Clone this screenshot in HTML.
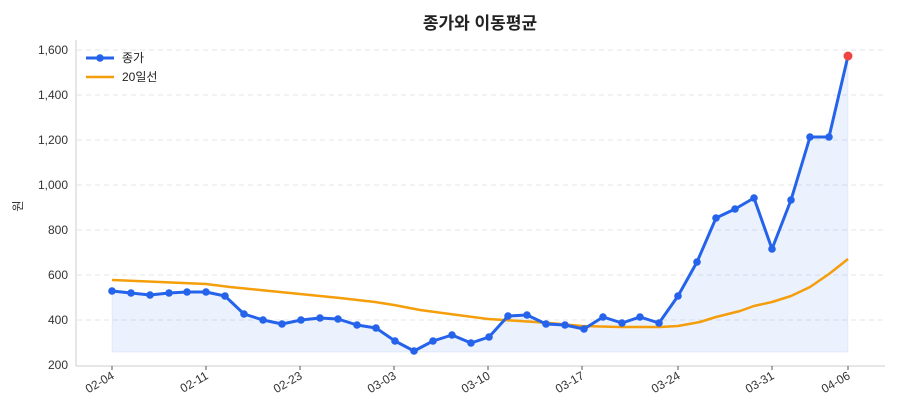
<!DOCTYPE html>
<html><head><meta charset="utf-8"><style>
body{margin:0;background:#fff}
svg{display:block;font-family:"Liberation Sans","Noto Sans CJK KR",sans-serif}
</style></head><body>
<svg width="900" height="420" viewBox="0 0 900 420">
<text x="480" y="29" text-anchor="middle" font-size="17" font-weight="bold" fill="#222">종가와 이동평균</text>
<g stroke="#e3e6ea" stroke-dasharray="5,4" stroke-width="1">
<line x1="77" x2="885" y1="50" y2="50"/><line x1="77" x2="885" y1="95" y2="95"/><line x1="77" x2="885" y1="140" y2="140"/><line x1="77" x2="885" y1="185" y2="185"/><line x1="77" x2="885" y1="230" y2="230"/><line x1="77" x2="885" y1="275" y2="275"/><line x1="77" x2="885" y1="320" y2="320"/>
</g>
<line x1="76" y1="40" x2="76" y2="366" stroke="#ccc"/>
<line x1="76" y1="366" x2="885" y2="366" stroke="#ccc"/>
<g font-size="12" fill="#333" text-anchor="end">
<text x="68" y="54">1,600</text><text x="68" y="99">1,400</text><text x="68" y="144">1,200</text><text x="68" y="189">1,000</text><text x="68" y="234">800</text><text x="68" y="279">600</text><text x="68" y="324">400</text><text x="68" y="369">200</text>
</g>
<text transform="translate(22,206) rotate(-90)" font-size="12" fill="#333" text-anchor="middle">원</text>
<g stroke="#555"><line x1="112" x2="112" y1="366" y2="370"/><line x1="206" x2="206" y1="366" y2="370"/><line x1="300" x2="300" y1="366" y2="370"/><line x1="394" x2="394" y1="366" y2="370"/><line x1="488" x2="488" y1="366" y2="370"/><line x1="582" x2="582" y1="366" y2="370"/><line x1="678" x2="678" y1="366" y2="370"/><line x1="772" x2="772" y1="366" y2="370"/><line x1="848" x2="848" y1="366" y2="370"/></g>
<g font-size="12" fill="#333" text-anchor="end">
<text transform="translate(115,378) rotate(-30)">02-04</text><text transform="translate(209,378) rotate(-30)">02-11</text><text transform="translate(303,378) rotate(-30)">02-23</text><text transform="translate(397,378) rotate(-30)">03-03</text><text transform="translate(491,378) rotate(-30)">03-10</text><text transform="translate(585,378) rotate(-30)">03-17</text><text transform="translate(681,378) rotate(-30)">03-24</text><text transform="translate(775,378) rotate(-30)">03-31</text><text transform="translate(851,378) rotate(-30)">04-06</text>
</g>
<polygon fill="#2563eb" fill-opacity="0.09" stroke="#2563eb" stroke-opacity="0.08" points="112,352 112,291 131,293 150,295 169,293 187,292 206,292 225,296 244,314 263,320 282,324 301,320 320,318 338,319 357,325 376,328 395,341 414,351 433,341 452,335 471,343 489,337 508,316 527,315 546,324 565,325 584,329 603,317 622,323 640,317 659,323 678,296 697,262 716,218 735,209 754,198 772,249 791,200 810,137 829,137 848,56 848,352"/>
<polyline fill="none" stroke="#f59e0b" stroke-width="2.5" stroke-linejoin="round" points="112,280 160,282 206,284 230,287 260,290 300,294 340,298 375,302 394,305 420,310 450,314 488,319 520,321 550,323 582,326 620,327 660,327 678,326 700,322 716,317 740,311 754,306 772,302 791,296 810,287 829,274 848,259"/>
<polyline fill="none" stroke="#2563eb" stroke-width="3" stroke-linejoin="round" points="112,291 131,293 150,295 169,293 187,292 206,292 225,296 244,314 263,320 282,324 301,320 320,318 338,319 357,325 376,328 395,341 414,351 433,341 452,335 471,343 489,337 508,316 527,315 546,324 565,325 584,329 603,317 622,323 640,317 659,323 678,296 697,262 716,218 735,209 754,198 772,249 791,200 810,137 829,137 848,56"/>
<g fill="#2563eb">
<circle cx="112" cy="291" r="3.8"/><circle cx="131" cy="293" r="3.8"/><circle cx="150" cy="295" r="3.8"/><circle cx="169" cy="293" r="3.8"/><circle cx="187" cy="292" r="3.8"/><circle cx="206" cy="292" r="3.8"/><circle cx="225" cy="296" r="3.8"/><circle cx="244" cy="314" r="3.8"/><circle cx="263" cy="320" r="3.8"/><circle cx="282" cy="324" r="3.8"/><circle cx="301" cy="320" r="3.8"/><circle cx="320" cy="318" r="3.8"/><circle cx="338" cy="319" r="3.8"/><circle cx="357" cy="325" r="3.8"/><circle cx="376" cy="328" r="3.8"/><circle cx="395" cy="341" r="3.8"/><circle cx="414" cy="351" r="3.8"/><circle cx="433" cy="341" r="3.8"/><circle cx="452" cy="335" r="3.8"/><circle cx="471" cy="343" r="3.8"/><circle cx="489" cy="337" r="3.8"/><circle cx="508" cy="316" r="3.8"/><circle cx="527" cy="315" r="3.8"/><circle cx="546" cy="324" r="3.8"/><circle cx="565" cy="325" r="3.8"/><circle cx="584" cy="329" r="3.8"/><circle cx="603" cy="317" r="3.8"/><circle cx="622" cy="323" r="3.8"/><circle cx="640" cy="317" r="3.8"/><circle cx="659" cy="323" r="3.8"/><circle cx="678" cy="296" r="3.8"/><circle cx="697" cy="262" r="3.8"/><circle cx="716" cy="218" r="3.8"/><circle cx="735" cy="209" r="3.8"/><circle cx="754" cy="198" r="3.8"/><circle cx="772" cy="249" r="3.8"/><circle cx="791" cy="200" r="3.8"/><circle cx="810" cy="137" r="3.8"/><circle cx="829" cy="137" r="3.8"/>
</g>
<circle cx="848" cy="56" r="4.5" fill="#ef4444"/>
<line x1="86" y1="58" x2="114" y2="58" stroke="#2563eb" stroke-width="3"/><circle cx="100" cy="58" r="3.8" fill="#2563eb"/>
<text x="122" y="62" font-size="12" fill="#222">종가</text>
<line x1="86" y1="77" x2="114" y2="77" stroke="#f59e0b" stroke-width="2.5"/>
<text x="122" y="81" font-size="12" fill="#222">20일선</text>
</svg>
</body></html>
